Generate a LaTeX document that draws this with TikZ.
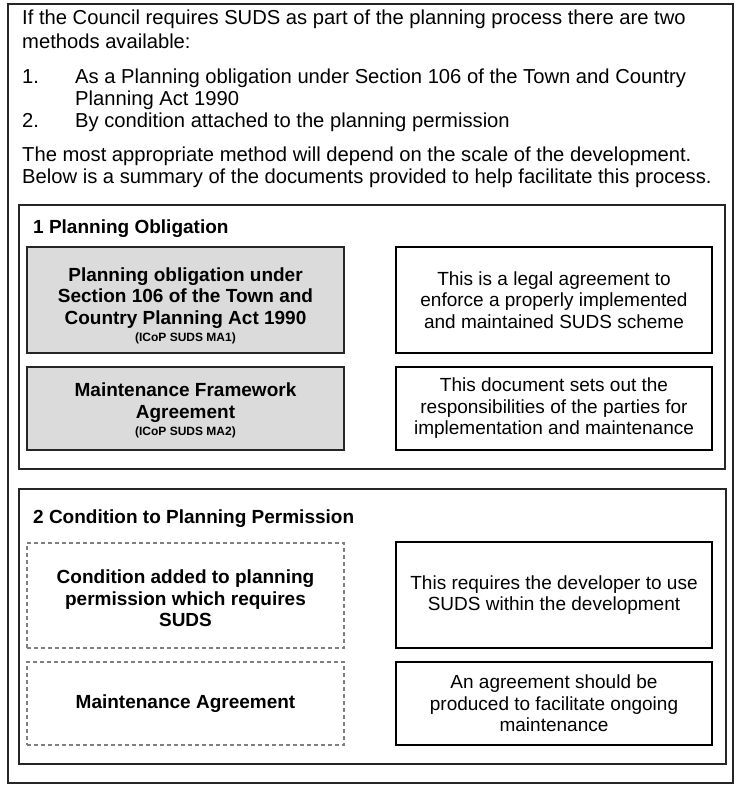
\documentclass[tikz,border=0pt]{standalone}
\usepackage{fontspec}
\setmainfont{Liberation Sans}
\usetikzlibrary{positioning}

\tikzset{
  frame/.style={draw=black!85,line width=1.3pt},
  txt/.style={anchor=base west,inner sep=0pt,font=\fontsize{20.2}{22}\selectfont},
  title/.style={anchor=base west,inner sep=0pt,font=\bfseries\fontsize{19}{22}\selectfont},
  docbox/.style={draw=black!85,line width=1.3pt,fill=black!14,minimum width=317pt,align=center,inner sep=0pt,font=\bfseries\fontsize{19}{21.5}\selectfont},
  condbox/.style={draw=black!50,line width=1.3pt,dash pattern=on 4pt off 3pt,minimum width=317pt,align=center,inner sep=0pt,font=\bfseries\fontsize{19}{21.5}\selectfont},
  notebox/.style={draw=black,line width=1.3pt,minimum width=316pt,align=center,inner sep=0pt,font=\fontsize{19}{21.5}\selectfont}
}
\newcommand{\refcode}[1]{\\[-4pt]{\fontsize{12}{12}\selectfont #1}}

\begin{document}
\begin{tikzpicture}[x=1pt,y=-1pt]
\useasboundingbox (0,0) rectangle (736,787);
\draw[frame] (8,4) rectangle (733,783);

% intro
\node[txt] (intro1) at (22,24) {If the Council requires SUDS as part of the planning process there are two};
\node[txt] (intro2) at (22,48) {methods available:};
\node[txt] (num1) at (22,83) {1.};
\node[txt] (item1a) at (75,83) {As a Planning obligation under Section 106 of the Town and Country};
\node[txt] (item1b) at (75,105) {Planning Act 1990};
\node[txt] (num2) at (22,127) {2.};
\node[txt] (item2) at (75,127) {By condition attached to the planning permission};
\node[txt] (intro3) at (22,161) {The most appropriate method will depend on the scale of the development.};
\node[txt] (intro4) at (22,183) {Below is a summary of the documents provided to help facilitate this process.};

% 1 planning obligation
\draw[frame] (19,205) rectangle (725,469);
\node[title] (obl) at (33,233) {1 Planning Obligation};
\node[docbox,minimum height=106pt] (s106) at (185.5,300) {\rule{0pt}{25pt}Planning obligation under\\Section 106 of the Town and\\Country Planning Act 1990\refcode{(ICoP SUDS MA1)}};
\node[docbox,minimum height=83pt] (mfa) at (185.5,408.5) {\rule{0pt}{18pt}Maintenance Framework\\Agreement\refcode{(ICoP SUDS MA2)}};
\node[notebox,minimum height=106pt] (s106note) at (554,300) {This is a legal agreement to\\enforce a properly implemented\\and maintained SUDS scheme};
\node[notebox,minimum height=83pt] (mfanote) at (554,408.5) {This document sets out the\\responsibilities of the parties for\\implementation and maintenance};

% 2 condition
\draw[frame] (19,489) rectangle (726,764);
\node[title] (cond) at (33,523) {2 Condition to Planning Permission};
\node[condbox,minimum height=105pt] (condadd) at (185.5,595.5) {\rule{0pt}{20pt}Condition added to planning\\permission which requires\\SUDS};
\node[condbox,minimum height=83pt] (maint) at (185.5,703.5) {Maintenance Agreement};
\node[notebox,minimum height=106pt] (condnote) at (554,595) {This requires the developer to use\\SUDS within the development};
\node[notebox,minimum height=83pt] (maintnote) at (554,703.5) {An agreement should be\\produced to facilitate ongoing\\maintenance};

\end{tikzpicture}
\end{document}
